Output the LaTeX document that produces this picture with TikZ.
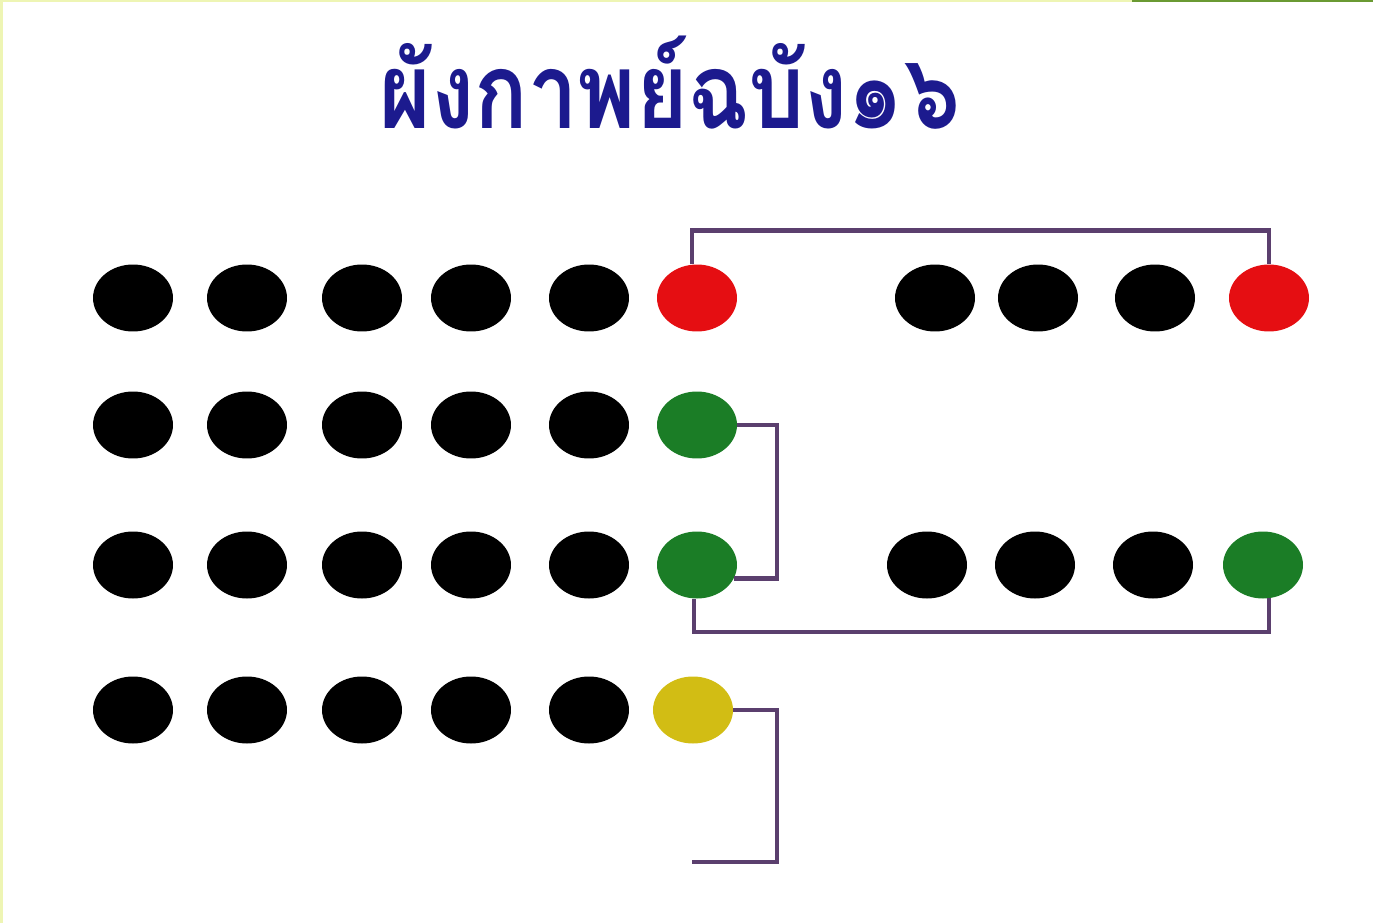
\documentclass[tikz,border=0pt]{standalone}
\usepackage{fontspec}
\newfontfamily\thaifont[Script=Thai]{Loma}
\usetikzlibrary{shapes.geometric}
\definecolor{navytitle}{HTML}{1C1A8E}
\definecolor{linkpurple}{HTML}{5B3F6E}
\definecolor{dotred}{HTML}{E50E12}
\definecolor{dotgreen}{HTML}{1B7D26}
\definecolor{dotyellow}{HTML}{D2BD14}
\definecolor{edgelight}{HTML}{EEF5B4}
\definecolor{edgegreen}{HTML}{6A9A32}

\begin{document}
\begin{tikzpicture}[x=0.02cm,y=-0.02cm]
  \tikzstyle{dot}=[ellipse,fill=black,minimum width=1.6cm,minimum height=1.34cm,inner sep=0pt]
  \tikzstyle{link}=[draw=linkpurple,line width=2.4pt]
  \useasboundingbox (0,0) rectangle (1373,923);
  % frame edges
  \fill[edgelight] (0,0) rectangle (3,923);
  \fill[edgelight] (0,0) rectangle (1132,2);
  \fill[edgegreen] (1132,0) rectangle (1373,2);
  % title
  \node[text=navytitle,font=\thaifont\bfseries\fontsize{60}{64}\selectfont] (title) at (670,83) {\scalebox{0.84}[1]{ผังกาพย์ฉบัง๑๖}};
  % four rows of black dots
  \foreach \row/\y in {1/298,2/425,3/565,4/710}
    \foreach \x [count=\i] in {133,247,362,471,589}
      \node[dot] (d\row-\i) at (\x,\y) {};
  \foreach \x [count=\i] in {935,1038,1155}
    \node[dot] (e1-\i) at (\x,298) {};
  \foreach \x [count=\i] in {927,1035,1153}
    \node[dot] (e3-\i) at (\x,565) {};
  % coloured dots
  \node[dot,fill=dotred] (redL) at (697,298) {};
  \node[dot,fill=dotred] (redR) at (1269,298) {};
  \node[dot,fill=dotgreen] (greenA) at (697,425) {};
  \node[dot,fill=dotgreen] (greenB) at (697,565) {};
  \node[dot,fill=dotgreen] (greenR) at (1263,565) {};
  \node[dot,fill=dotyellow] (yellow) at (693,710) {};
  \coordinate (yEnd) at (692,862);
  % rhyme links
  \draw[link] (redL.98) -- ++(0,-34) -| (redR.north);
  \draw[link] (greenA.east) -- ++(40,0) |- (greenB.-20);
  \draw[link] (greenB.-95) -- ++(0,33) -| (greenR.-80);
  \draw[link] (yellow.east) -- ++(44,0) |- (yEnd);
\end{tikzpicture}
\end{document}
